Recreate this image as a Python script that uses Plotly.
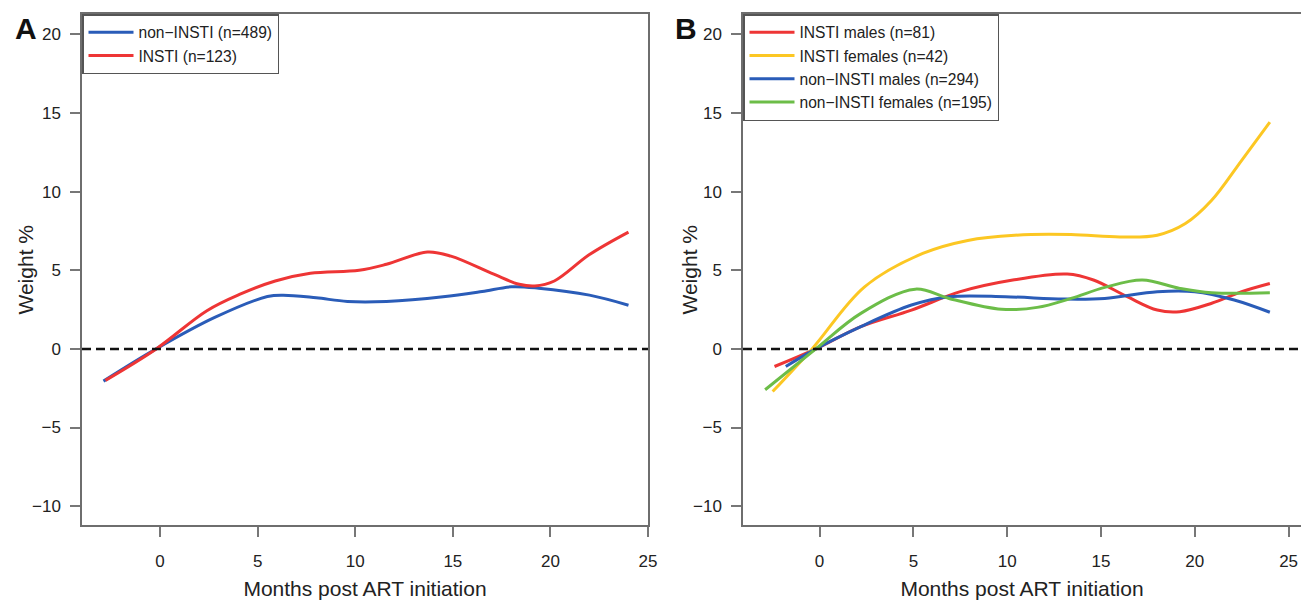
import plotly.graph_objects as go

# ---------------- data ----------------
# Panel A
a_noninsti_x = [-2.9, -0.2, 2.8, 5.5, 6.3, 8.0, 9.6, 11.6, 14.5, 16.5, 18.0, 19.4, 22.0, 24.0]
a_noninsti_y = [-2.05, 0.0, 2.0, 3.33, 3.42, 3.25, 3.02, 3.02, 3.31, 3.65, 3.95, 3.86, 3.42, 2.78]
a_insti_x = [-2.8, -0.2, 2.4, 4.1, 5.9, 7.7, 10.2, 11.6, 13.7, 14.9, 17.1, 18.4, 19.2, 20.2, 22.0, 24.0]
a_insti_y = [-2.0, 0.0, 2.43, 3.48, 4.32, 4.81, 5.0, 5.38, 6.16, 5.9, 4.75, 4.11, 4.0, 4.32, 6.0, 7.43]

# Panel B
b_insti_m_x = [-2.4, -0.2, 2.2, 4.9, 7.5, 10.3, 13.2, 14.6, 16.4, 18.0, 19.2, 20.9, 22.5, 24.0]
b_insti_m_y = [-1.12, 0.0, 1.42, 2.47, 3.64, 4.38, 4.76, 4.38, 3.32, 2.47, 2.37, 2.9, 3.64, 4.16]
b_insti_f_x = [-2.5, -0.4, 2.4, 5.5, 7.9, 10.4, 13.4, 16.0, 18.0, 19.5, 20.9, 22.5, 24.0]
b_insti_f_y = [-2.71, 0.0, 3.95, 6.07, 6.9, 7.23, 7.27, 7.12, 7.23, 7.97, 9.45, 11.99, 14.42]
b_non_m_x = [-1.8, -0.2, 2.2, 4.9, 6.9, 9.9, 13.0, 15.2, 18.0, 20.0, 22.1, 24.0]
b_non_m_y = [-1.12, 0.0, 1.42, 2.79, 3.32, 3.32, 3.17, 3.21, 3.64, 3.64, 3.11, 2.33]
b_non_f_x = [-2.9, -0.2, 2.2, 5.1, 6.9, 9.7, 11.6, 13.4, 15.2, 17.2, 19.2, 20.9, 24.0]
b_non_f_y = [-2.6, 0.0, 2.26, 3.8, 3.21, 2.52, 2.64, 3.21, 3.91, 4.38, 3.85, 3.57, 3.57]

y_ticks = [-10, -5, 0, 5, 10, 15, 20]
x_ticks = [0, 5, 10, 15, 20, 25]

BLUE = "#2a5cb8"
RED = "#ee3535"
YELLOW = "#fcc723"
GREEN = "#6cbd48"

W, H = 1301, 603
FONT = "Liberation Sans, Arial, sans-serif"

fig = go.Figure()

def add(x, y, name, color, xa, ya, legend):
    fig.add_trace(go.Scatter(x=x, y=y, mode="lines", name=name,
                             line=dict(color=color, width=3, shape="spline", smoothing=1.0),
                             xaxis=xa, yaxis=ya, legend=legend, hoverinfo="skip"))

add(a_noninsti_x, a_noninsti_y, "non\u2212INSTI (n=489)", BLUE, "x", "y", "legend")
add(a_insti_x, a_insti_y, "INSTI (n=123)", RED, "x", "y", "legend")

add(b_insti_m_x, b_insti_m_y, "INSTI males (n=81)", RED, "x2", "y2", "legend2")
add(b_insti_f_x, b_insti_f_y, "INSTI females (n=42)", YELLOW, "x2", "y2", "legend2")
add(b_non_m_x, b_non_m_y, "non\u2212INSTI males (n=294)", BLUE, "x2", "y2", "legend2")
add(b_non_f_x, b_non_f_y, "non\u2212INSTI females (n=195)", GREEN, "x2", "y2", "legend2")

ydom = [(H - 525) / H, (H - 14) / H]
xdomA = [82 / W, 648 / W]
xdomB = [743 / W, 1.0]

axis_common = dict(showgrid=False, zeroline=False, showline=True, linecolor="#6e6e6e",
                   linewidth=1.5, ticks="outside", ticklen=10, tickwidth=1.5, tickcolor="#777",
                   tickfont=dict(family=FONT, size=17, color="#222"))

title_font = dict(family=FONT, size=21, color="#222")
legend_font = dict(family=FONT, size=15.6, color="#222")

fig.update_layout(
    width=W, height=H, margin=dict(l=0, r=0, t=0, b=0, autoexpand=False),
    paper_bgcolor="white", plot_bgcolor="white",
    xaxis=dict(domain=xdomA, range=[-4.0, 25.0], tickvals=x_ticks, mirror=True,
               title=dict(text="Months post ART initiation", font=title_font, standoff=11),
               ticklabelstandoff=10, anchor="y", automargin=False, **axis_common),
    yaxis=dict(domain=ydom, range=[-11.2, 21.3], tickvals=y_ticks, mirror=True,
               ticklabelstandoff=6, anchor="x", automargin=False, **axis_common),
    xaxis2=dict(domain=xdomB, range=[-4.08, 25.66], tickvals=x_ticks, mirror=True,
                title=dict(text="Months post ART initiation", font=title_font, standoff=11),
                ticklabelstandoff=10, anchor="y2", automargin=False, **axis_common),
    yaxis2=dict(domain=ydom, range=[-11.2, 21.3], tickvals=y_ticks, mirror=False,
                ticklabelstandoff=6, anchor="x2", automargin=False, **axis_common),
    legend=dict(x=xdomA[0], y=ydom[1], xanchor="left", yanchor="top",
                bgcolor="white", bordercolor="#555", borderwidth=1.5,
                font=legend_font, itemwidth=45, tracegroupgap=0),
    legend2=dict(x=xdomB[0], y=ydom[1], xanchor="left", yanchor="top",
                 bgcolor="white", bordercolor="#555", borderwidth=1.5,
                 font=legend_font, itemwidth=45, tracegroupgap=0),
    showlegend=True,
)

# dashed reference line at 0
for xr, yr in (("x domain", "y"), ("x2 domain", "y2")):
    fig.add_shape(type="line", xref=xr, yref=yr, x0=0, x1=1, y0=0, y1=0,
                  line=dict(color="#111", width=2.5, dash="9px,5px"), layer="above")

# y-axis titles
for xpix in (25, 689):
    fig.add_annotation(text="Weight %", x=xpix / W, y=sum(ydom) / 2, xref="paper", yref="paper",
                       xanchor="center", yanchor="middle", textangle=-90,
                       showarrow=False, font=title_font)

# panel letters
fig.add_annotation(text="<b>A</b>", x=26 / W, y=(H - 28) / H, xref="paper", yref="paper",
                   xanchor="center", yanchor="middle",
                   showarrow=False, font=dict(family=FONT, size=30, color="#111"))
fig.add_annotation(text="<b>B</b>", x=686 / W, y=(H - 28) / H, xref="paper", yref="paper",
                   xanchor="center", yanchor="middle",
                   showarrow=False, font=dict(family=FONT, size=30, color="#111"))

fig.write_html("out.html", config={"displayModeBar": False},
               post_script="document.body.style.margin='0px';document.body.style.overflow='hidden';")
